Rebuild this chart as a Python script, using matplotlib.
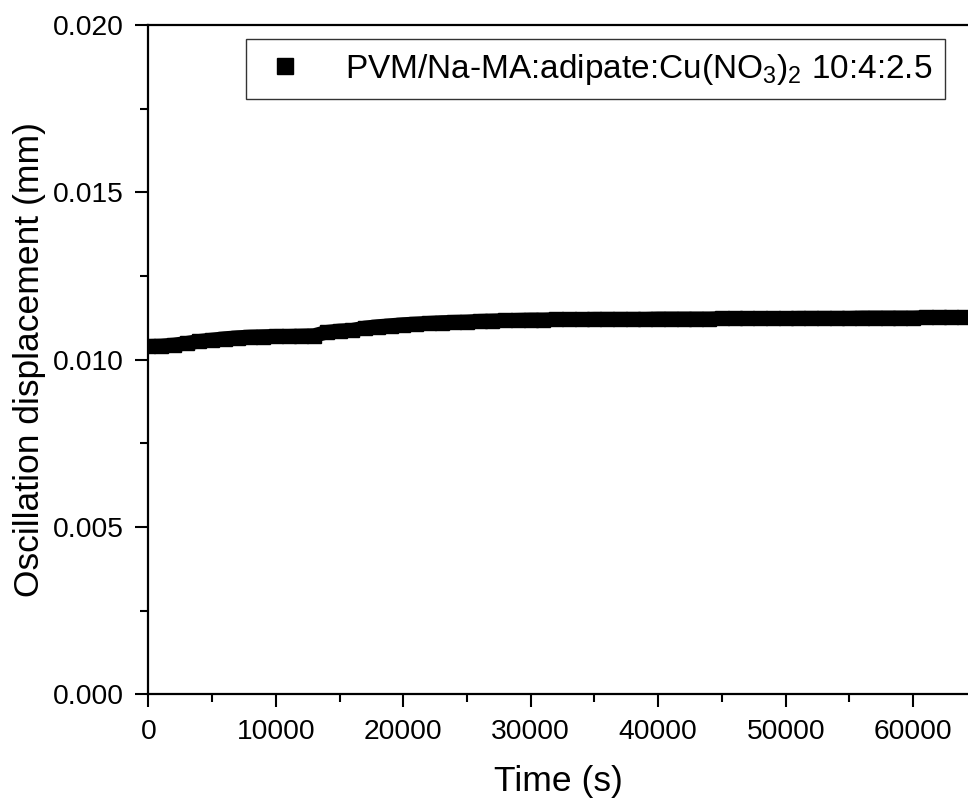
import matplotlib
matplotlib.use("Agg")
import matplotlib.pyplot as plt
from matplotlib.ticker import MultipleLocator, FormatStrFormatter
from matplotlib.lines import Line2D

time_s = [i * 1000 for i in range(65)]
displacement_mm = [
    0.01040, 0.01041, 0.01044, 0.01049, 0.01055, 0.01059, 0.01063, 0.01066, 0.01068, 0.01069,
    0.01070, 0.01070, 0.01071, 0.01072, 0.01082, 0.01086, 0.01088, 0.01095, 0.01099, 0.01102,
    0.01105, 0.01107, 0.01109, 0.01111, 0.01112, 0.01113, 0.01115, 0.01116, 0.01117, 0.01118,
    0.01119, 0.01119, 0.01120, 0.01120, 0.01120, 0.01121, 0.01121, 0.01121, 0.01121, 0.01121,
    0.01122, 0.01122, 0.01122, 0.01122, 0.01122, 0.01123, 0.01123, 0.01123, 0.01123, 0.01123,
    0.01123, 0.01124, 0.01124, 0.01124, 0.01124, 0.01124, 0.01125, 0.01125, 0.01125, 0.01125,
    0.01125, 0.01126, 0.01126, 0.01126, 0.01126,
]
series_label = r"PVM/Na-MA:adipate:Cu(NO$_{3}$)$_{2}$ 10:4:2.5"
x_label = "Time (s)"
y_label = "Oscillation displacement (mm)"

plt.rcParams['font.family'] = ['Liberation Sans', 'DejaVu Sans']
plt.rcParams['mathtext.fontset'] = 'custom'
plt.rcParams['mathtext.rm'] = 'Liberation Sans'
plt.rcParams['mathtext.it'] = 'Liberation Sans'

fig = plt.figure(figsize=(9.68, 7.99), dpi=100)
left = 148.3 / 968
bottom = (799 - 694.3) / 799
top = (799 - 25) / 799
ax = fig.add_axes([left, bottom, 1 - left, top - bottom])

ax.plot(time_s, displacement_mm, color='black', lw=10.5, solid_capstyle='butt',
        marker='s', ms=10.5, mfc='black', mec='black', clip_on=True)

ax.set_xlim(0, 64300)
ax.set_ylim(0, 0.020)
ax.xaxis.set_major_locator(MultipleLocator(10000))
ax.xaxis.set_minor_locator(MultipleLocator(5000))
ax.yaxis.set_major_locator(MultipleLocator(0.005))
ax.yaxis.set_minor_locator(MultipleLocator(0.0025))
ax.yaxis.set_major_formatter(FormatStrFormatter('%.3f'))

ax.tick_params(which='major', direction='out', length=9.5, width=1.5, labelsize=20.3)
ax.tick_params(which='minor', direction='out', length=5.8, width=1.5)
ax.tick_params(axis='x', which='major', pad=8.5)
ax.tick_params(axis='y', which='major', pad=8)
ax.tick_params(top=False, right=False)
for s in ['left', 'bottom', 'top']:
    ax.spines[s].set_linewidth(1.6)
ax.spines['right'].set_visible(False)

ax.set_xlabel(x_label, fontsize=25.5, labelpad=14)
ax.set_ylabel(y_label, fontsize=25.5, labelpad=5)

handle = Line2D([], [], color='black', marker='s', ls='none', ms=11)
leg = ax.legend([handle], [series_label], loc='upper right',
                bbox_to_anchor=(945 / 968, (799 - 39) / 799), bbox_transform=fig.transFigure,
                fontsize=24, frameon=True, fancybox=False, borderpad=0.38,
                handletextpad=1.0, handlelength=1.6, borderaxespad=0)
leg.get_frame().set_edgecolor('black')
leg.get_frame().set_linewidth(1.0)

fig.savefig("out.png", dpi=100)
